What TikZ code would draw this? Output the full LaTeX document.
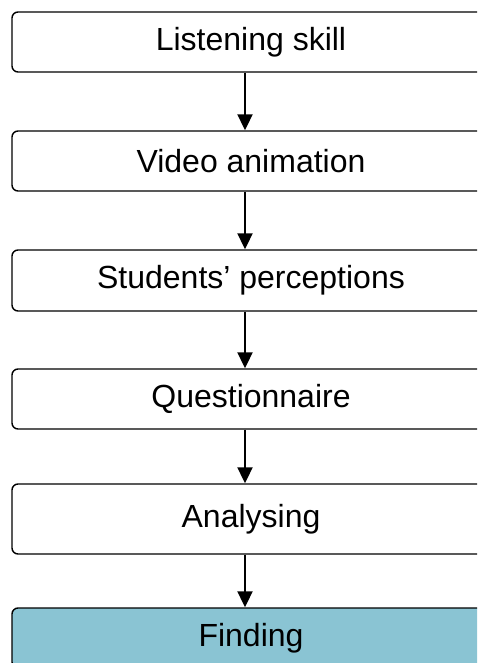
\documentclass[tikz,border=0pt]{standalone}
\usepackage{fontspec}
\setmainfont{Liberation Sans}
\usepackage{tikz}
\usetikzlibrary{arrows.meta}
\definecolor{findblue}{RGB}{138,196,211}

\begin{document}
\begin{tikzpicture}
[x=1pt,y=-1pt,every node/.style={draw,line width=1.4pt,rounded corners=6pt,minimum width=478pt,minimum height=60pt,inner sep=0pt,font=\fontsize{32}{38}\selectfont}]

  \useasboundingbox (0,0) rectangle (477,663);
  \clip (0,0) rectangle (477,663);

  \node (n1) at (251,42) {Listening skill};
  \node (n2) at (251,161) {Video animation};
  \node (n3) at (251,280.5) [minimum height=61pt] {Students’ perceptions};
  \node (n4) at (251,399) {Questionnaire};
  \node (n5) at (251,519) [minimum height=70pt] {Analysing};
  \node (n6) at (251,638) [fill=findblue] {Finding};

  \foreach \from/\to in {n1/n2,n2/n3,n3/n4,n4/n5,n5/n6}
    \draw [line width=2pt,-{Triangle[length=16pt,width=15pt]}] ([xshift=-6pt]\from.south) -- ([xshift=-6pt]\to.north);

\end{tikzpicture}
\end{document}
